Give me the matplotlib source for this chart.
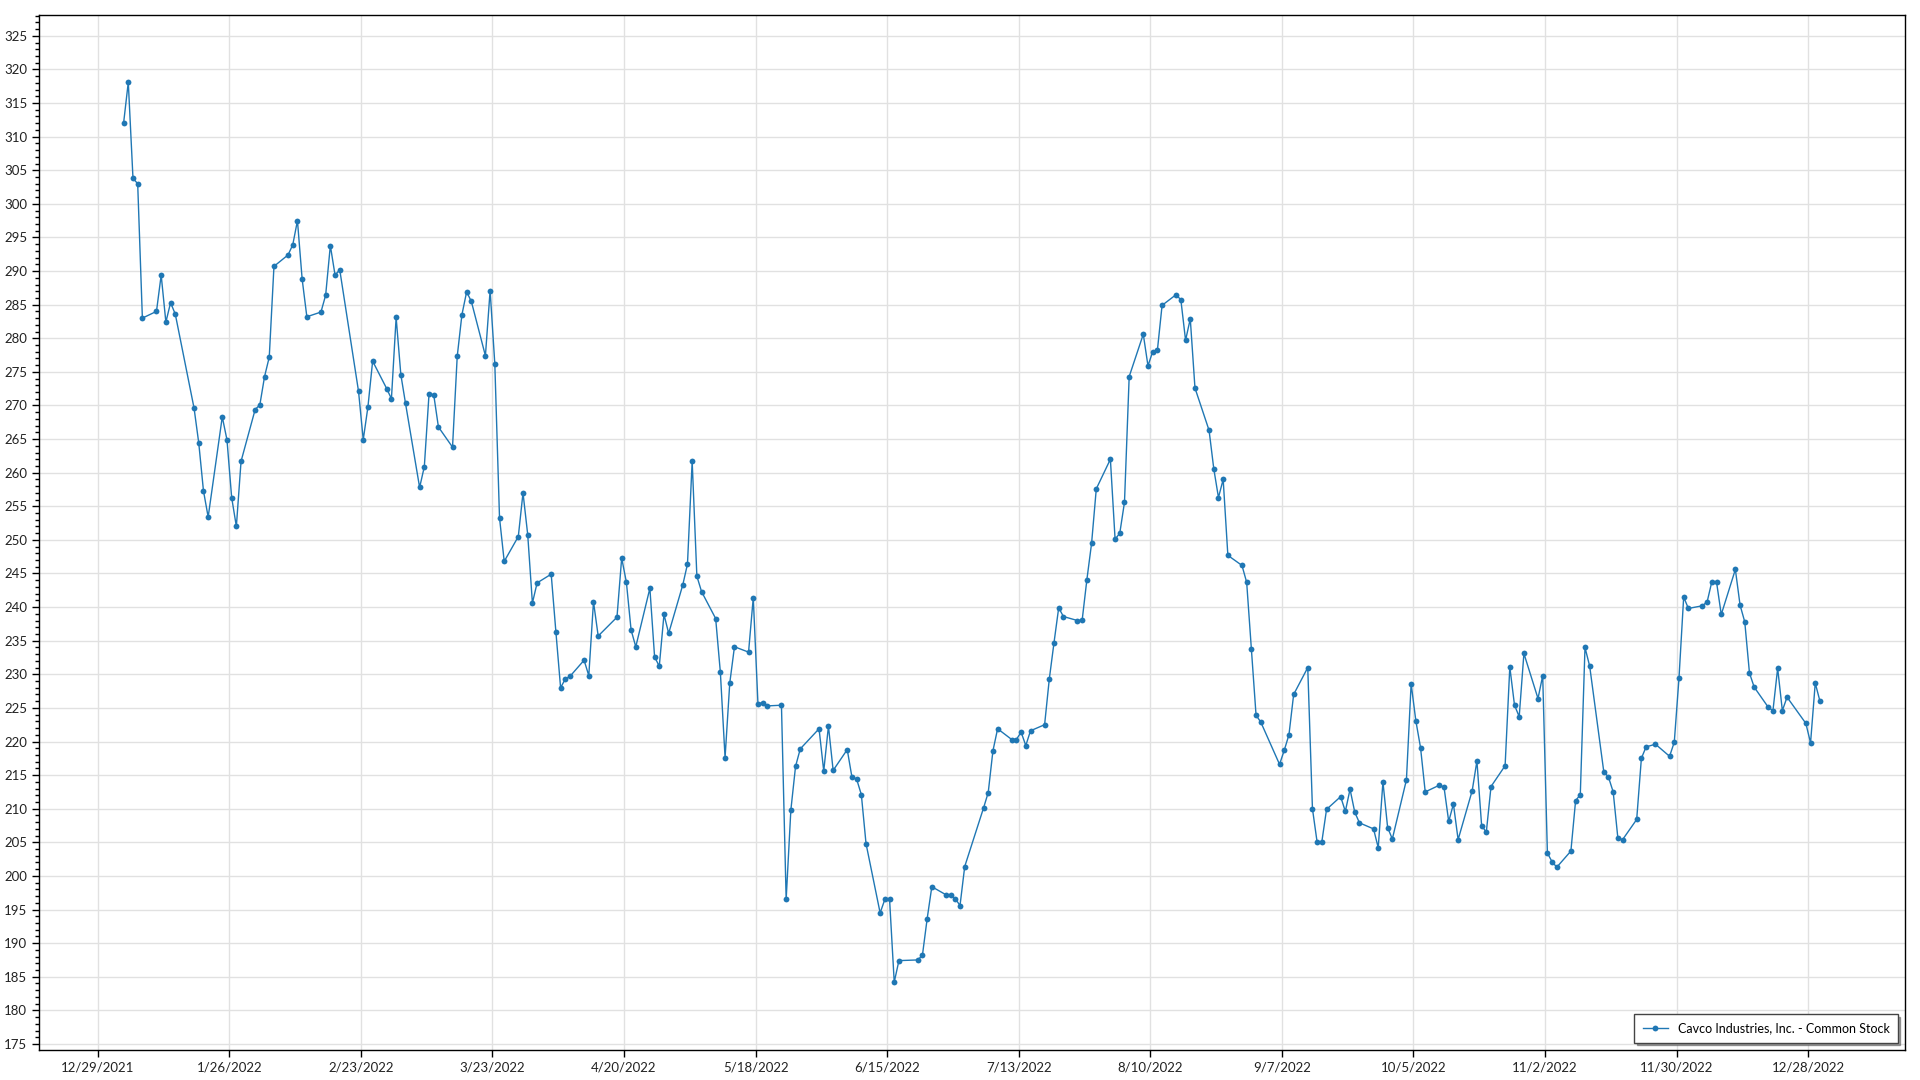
import pandas as pd
import matplotlib.pyplot as plt
import matplotlib.ticker as mticker
import matplotlib.dates as mdates

# -----------------------------
# Data: daily closing price, Cavco Industries (CVCO), 2022 trading days
# -----------------------------
jan = [312.0, 318.1, 303.8, 303.0, 283.0, 284.0, 289.4, 282.4, 285.3, 283.6,
       269.6, 264.4, 257.3, 253.4, 268.3, 264.9, 256.3, 252.0, 261.7, 269.4]
feb = [270.1, 274.3, 277.2, 290.7, 292.4, 293.9, 297.5, 288.8, 283.2, 283.9,
       286.4, 293.8, 289.4, 290.2, 272.1, 264.9, 269.8, 276.6, 272.5]
mar = [271.0, 283.1, 274.6, 270.3, 257.8, 260.9, 271.7, 271.6, 266.8, 263.8,
       277.3, 283.5, 286.9, 285.5, 277.4, 287.1, 276.2, 253.3, 246.8, 250.5,
       257.0, 250.8, 240.6]
apr = [243.6, 244.9, 236.3, 228.0, 229.3, 229.7, 232.1, 229.8, 240.8, 235.7,
       238.5, 247.3, 243.7, 236.6, 234.1, 242.8, 232.6, 231.2, 238.9, 236.1]
may = [243.3, 246.4, 261.7, 244.6, 242.3, 238.3, 230.3, 217.6, 228.7, 234.1,
       233.3, 241.4, 225.6, 225.8, 225.3, 225.4, 196.5, 209.8, 216.3, 218.9,
       221.9]
jun = [215.6, 222.3, 215.7, 218.8, 214.7, 214.4, 212.1, 204.8, 194.5, 196.5,
       196.6, 184.2, 187.4, 187.5, 188.2, 193.6, 198.4, 197.2, 197.2, 196.6,
       195.6]
jul = [201.4, 210.1, 212.4, 218.6, 221.9, 220.3, 220.3, 221.4, 219.4, 221.6,
       222.5, 229.3, 234.7, 239.9, 238.6, 238.0, 238.1, 244.1, 249.5, 257.6]
aug = [262.0, 250.1, 251.0, 255.6, 274.3, 280.6, 275.9, 278.0, 278.2, 284.9,
       286.5, 285.7, 279.7, 282.9, 272.6, 266.3, 260.6, 256.3, 259.0, 247.7,
       246.2, 243.7, 233.8]
sep = [223.9, 222.9, 216.6, 218.7, 221.0, 227.0, 231.0, 210.0, 205.0, 205.1,
       209.9, 211.8, 209.6, 212.9, 209.5, 207.9, 207.0, 204.2, 214.0, 207.2,
       205.5]
oct_ = [214.3, 228.6, 223.1, 219.1, 212.5, 213.5, 213.2, 208.1, 210.7, 205.4,
        212.7, 217.1, 207.5, 206.5, 213.3, 216.4, 231.1, 225.4, 223.7, 233.1,
        226.4]
nov = [229.8, 203.4, 202.1, 201.3, 203.7, 211.2, 212.1, 234.0, 231.2, 215.5,
       214.7, 212.5, 205.6, 205.4, 208.4, 217.5, 219.2, 219.6, 217.8, 219.9,
       229.4]
dec = [241.5, 239.8, 240.2, 240.8, 243.8, 243.7, 238.9, 245.6, 240.3, 237.8,
       230.2, 228.1, 225.1, 224.6, 230.9, 224.6, 226.6, 222.7, 219.8, 228.7,
       226.0]

prices = jan + feb + mar + apr + may + jun + jul + aug + sep + oct_ + nov + dec

# market holidays 2022 (NYSE/Nasdaq)
holidays = ["2022-01-17", "2022-02-21", "2022-04-15", "2022-05-30", "2022-06-20",
            "2022-07-04", "2022-09-05", "2022-11-24", "2022-12-26"]
dates = pd.bdate_range("2022-01-03", "2022-12-30", freq="C", holidays=holidays)
# points sit at mid-day in the original chart
dates = dates + pd.Timedelta(hours=12)

series_label = "Cavco Industries, Inc. - Common Stock"
tick_start = pd.Timestamp("2021-12-29")
tick_dates = pd.date_range(tick_start, periods=14, freq="28D")

# -----------------------------
# Plot
# -----------------------------
plt.rcParams["font.family"] = ["Lato", "DejaVu Sans"]

fig = plt.figure(figsize=(19.2, 10.8), dpi=100)
ax = fig.add_axes([39 / 1920, 1 - 1050 / 1080, (1905 - 39) / 1920, (1050 - 15) / 1080])

ax.plot(dates, prices, color="#1f77b4", linewidth=1.0, marker="o",
        markersize=4.2, markeredgewidth=0, label=series_label, zorder=3)

ax.set_xlim(tick_start - pd.Timedelta(days=12.5), tick_start + pd.Timedelta(days=384.6))
ax.set_ylim(174.1, 328.1)

ax.set_xticks(tick_dates)
ax.xaxis.set_major_formatter(mticker.FuncFormatter(
    lambda x, _: "{d.month}/{d.day}/{d.year}".format(d=mdates.num2date(x))))
ax.yaxis.set_major_locator(mticker.MultipleLocator(5))
ax.yaxis.set_minor_locator(mticker.MultipleLocator(1))

ax.tick_params(axis="both", which="major", direction="out", length=5, width=1,
               labelsize=9.5, labelcolor="#222222", color="#000000")
ax.tick_params(axis="y", which="minor", direction="out", length=3, width=1, color="#000000")

ax.grid(True, which="major", color="#e1e1e1", linewidth=1.0)
ax.set_axisbelow(True)
for spine in ax.spines.values():
    spine.set_color("#000000")
    spine.set_linewidth(1.0)

leg = ax.legend(loc="lower right", fontsize=9, frameon=True, fancybox=False,
                shadow=True, borderaxespad=0.6, handlelength=2.0, borderpad=0.65)
leg.get_frame().set_edgecolor("#444444")
leg.get_frame().set_linewidth(1.0)

plt.savefig("out.png", dpi=100)
plt.close()
